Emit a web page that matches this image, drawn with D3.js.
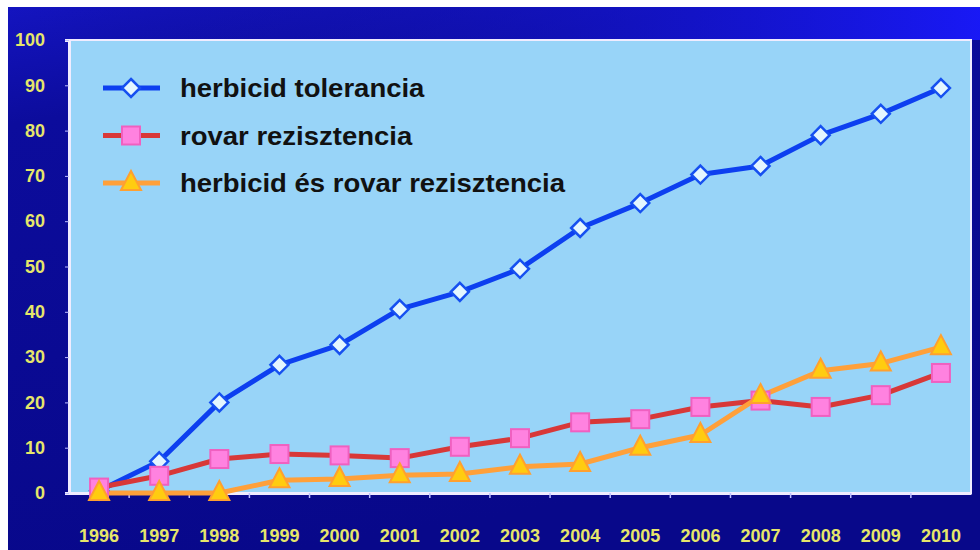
<!DOCTYPE html>
<html>
<head>
<meta charset="utf-8">
<script src="https://cdn.jsdelivr.net/npm/d3@7"></script>
<style>
  body { margin: 0; background: #fff; }
  svg { display: block; }
</style>
</head>
<body>
<div id="chart"></div>
<script>
// data
const years = ["1996","1997","1998","1999","2000","2001","2002","2003","2004","2005","2006","2007","2008","2009","2010"];
const herbicidTolerancia = [0.5, 7, 20, 28.3, 32.7, 40.6, 44.4, 49.5, 58.5, 64, 70.3, 72.2, 79, 83.7, 89.4];
const rovarRezisztencia = [1.2, 3.8, 7.5, 8.6, 8.3, 7.7, 10.2, 12.1, 15.6, 16.3, 19, 20.4, 19, 21.6, 26.5];
const mindketto = [0, 0, 0, 2.8, 3.1, 3.9, 4.2, 5.8, 6.4, 10, 12.8, 21.4, 27, 28.6, 32.2];
const yTicks = [0, 10, 20, 30, 40, 50, 60, 70, 80, 90, 100];
const legendLabels = ["herbicid tolerancia", "rovar rezisztencia", "herbicid és rovar rezisztencia"];

// plot area edges (note: "top" is reserved on window, so use plotTop etc.)
const width = 980, height = 550;
const plotLeft = 69, plotRight = 971, plotTop = 40, plotBottom = 493;
const font = "Arial, 'Liberation Sans', sans-serif";

const svg = d3.select("#chart").append("svg")
  .attr("width", width)
  .attr("height", height);

// background gradient (navy -> brighter blue at the top)
const defs = svg.append("defs");
const grad = defs.append("linearGradient").attr("id", "bg")
  .attr("x1", 0).attr("y1", 0).attr("x2", 0.3).attr("y2", 1);
grad.append("stop").attr("offset", "0%").attr("stop-color", "#1414c0");
grad.append("stop").attr("offset", "20%").attr("stop-color", "#0c0c9c");
grad.append("stop").attr("offset", "100%").attr("stop-color", "#08088a");
const grad2 = defs.append("linearGradient").attr("id", "bgTop")
  .attr("x1", 0).attr("y1", 0).attr("x2", 1).attr("y2", 0);
grad2.append("stop").attr("offset", "0%").attr("stop-color", "#101090").attr("stop-opacity", 0);
grad2.append("stop").attr("offset", "100%").attr("stop-color", "#1a1aff").attr("stop-opacity", 0.9);

svg.append("rect").attr("x", 8).attr("y", 7).attr("width", width - 8).attr("height", height - 7)
  .attr("fill", "url(#bg)");
svg.append("rect").attr("x", 8).attr("y", 7).attr("width", width - 8).attr("height", 33)
  .attr("fill", "url(#bgTop)");

const x = d3.scaleBand().domain(years).range([plotLeft, plotRight]);
const y = d3.scaleLinear().domain([0, 100]).range([plotBottom, plotTop]);

// plot area
svg.append("rect")
  .attr("x", plotLeft).attr("y", plotTop)
  .attr("width", plotRight - plotLeft).attr("height", plotBottom - plotTop)
  .attr("fill", "#98d4f8")
  .attr("stroke", "#f0ecff").attr("stroke-width", 2);

// axes
const yAxis = svg.append("g")
  .attr("transform", `translate(${plotLeft},0)`)
  .call(d3.axisLeft(y).tickValues(yTicks).tickSize(4).tickPadding(20));
yAxis.select(".domain").attr("stroke", "#f0ecff").attr("stroke-width", 3);
yAxis.selectAll(".tick line").attr("stroke", "#c0c0ff");
yAxis.selectAll("text")
  .attr("fill", "#e6e66a")
  .style("font-family", font)
  .style("font-weight", "bold")
  .style("font-size", "18px");

const xAxis = svg.append("g")
  .attr("transform", `translate(0,${plotBottom})`)
  .call(d3.axisBottom(x).tickSize(0).tickPadding(36));
xAxis.select(".domain").attr("stroke", "#f0ecff").attr("stroke-width", 3);
xAxis.selectAll("text")
  .attr("fill", "#e6e66a")
  .style("font-family", font)
  .style("font-weight", "bold")
  .style("font-size", "18px");
// small ticks at band boundaries
svg.append("g").selectAll("line")
  .data(years.slice(1))
  .enter().append("line")
  .attr("x1", d => x(d)).attr("x2", d => x(d))
  .attr("y1", plotBottom).attr("y2", plotBottom + 5)
  .attr("stroke", "#c0c0ff").attr("stroke-width", 1.5);

const series = [
  { values: herbicidTolerancia, line: "#0d3ff0", marker: "diamond" },
  { values: rovarRezisztencia, line: "#d83838", marker: "square" },
  { values: mindketto, line: "#ffa03a", marker: "triangle" }
];

const line = d3.line()
  .x((d, i) => x(years[i]) + x.bandwidth() / 2)
  .y(d => y(d));

function drawMarker(g, type) {
  if (type === "diamond") {
    g.append("path").attr("d", "M0,-9L9,0L0,9L-9,0Z")
      .attr("fill", "#e4f6ff").attr("stroke", "#1650f0").attr("stroke-width", 2.5);
  } else if (type === "square") {
    g.append("rect").attr("x", -9).attr("y", -9).attr("width", 18).attr("height", 18)
      .attr("fill", "#ff82e0").attr("stroke", "#f060c0").attr("stroke-width", 2);
  } else {
    g.append("path").attr("d", "M0,-12L10,7L-10,7Z")
      .attr("fill", "#ffcc10").attr("stroke", "#ffa030").attr("stroke-width", 2);
  }
}

// draw lines, then markers (orange last, on top)
series.forEach(s => {
  svg.append("path")
    .datum(s.values)
    .attr("fill", "none")
    .attr("stroke", s.line)
    .attr("stroke-width", 5)
    .attr("stroke-linejoin", "round")
    .attr("d", line);
});
series.forEach(s => {
  s.values.forEach((v, i) => {
    const g = svg.append("g")
      .attr("transform", `translate(${x(years[i]) + x.bandwidth() / 2},${y(v)})`);
    drawMarker(g, s.marker);
  });
});

// legend (text in the picture is a little stretched sideways)
legendLabels.forEach((label, i) => {
  const ly = 88 + i * 47.5;
  const s = series[i];
  svg.append("line")
    .attr("x1", 103).attr("x2", 160).attr("y1", ly).attr("y2", ly)
    .attr("stroke", s.line).attr("stroke-width", 5);
  const g = svg.append("g").attr("transform", `translate(131,${ly})`);
  drawMarker(g, s.marker);
  svg.append("text")
    .attr("transform", `translate(180,${ly + 9}) scale(1.1,1)`)
    .text(label)
    .attr("fill", "#111")
    .style("font-family", font)
    .style("font-weight", "bold")
    .style("font-size", "25px");
});
</script>
</body>
</html>
